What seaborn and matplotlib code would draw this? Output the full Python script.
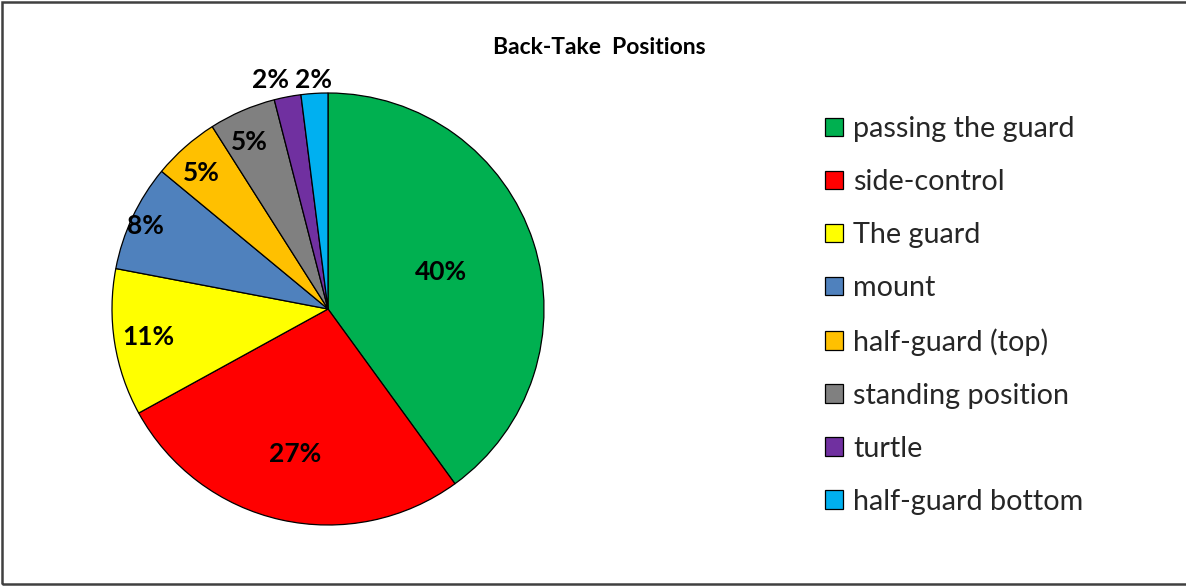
import matplotlib
matplotlib.use("Agg")
import matplotlib.pyplot as plt
from matplotlib.patches import Rectangle
import numpy as np
import seaborn as sns

# Back-take starting positions (share of all back takes, %)
positions = ["passing the guard", "side-control", "The guard", "mount",
             "half-guard (top)", "standing position", "turtle", "half-guard bottom"]
shares = [40, 27, 11, 8, 5, 5, 2, 2]
pct_labels = ["40%", "27%", "11%", "8%", "5%", "5%", "2%", "2%"]
title = "Back-Take  Positions"

sns.set_theme(style="white")
plt.rcParams["font.family"] = ["Lato", "DejaVu Sans"]

colors = sns.color_palette(["#00B050", "#FF0000", "#FFFF00", "#4F81BD",
                            "#FFC000", "#808080", "#7030A0", "#00B0F0"])

W, H = 1186, 586
fig = plt.figure(figsize=(W / 100, H / 100), dpi=100)
fig.patch.set_facecolor("white")

# pie axes: centre (328, 309) px, radius 216 px
cx, cy, r = 328, 309, 216
ax = fig.add_axes([(cx - r) / W, (H - cy - r) / H, 2 * r / W, 2 * r / H])
wedges, _ = ax.pie(shares, colors=colors, startangle=90, counterclock=False,
                   radius=1.0, wedgeprops=dict(edgecolor="black", linewidth=0.9))
ax.set_xlim(-1, 1)
ax.set_ylim(-1, 1)
ax.set_aspect("equal")
ax.axis("off")

# label distance from the centre (fraction of radius) for each slice
label_dist = [0.55, 0.69, 0.84, 0.90, 0.84, 0.84, 1.08, 1.06]
label_shift = [0, 0, 0, -0.03, -0.03, -0.03, -0.065, 0]
for w, txt, d, s in zip(wedges, pct_labels, label_dist, label_shift):
    mid = np.deg2rad((w.theta1 + w.theta2) / 2)
    x = d * np.cos(mid) + s
    y = d * np.sin(mid)
    ax.text(x, y, txt, ha="center", va="center", fontsize=19,
            fontweight="bold", color="black")

fig.text(599 / W, 1 - 47 / H, title, ha="center", va="center",
         fontsize=16.5, fontweight="bold", color="black")

leg = fig.legend(wedges, positions, loc="upper left",
                 bbox_to_anchor=(825 / W, 1 - 116 / H), frameon=False,
                 fontsize=20.7, handlelength=0.62, handleheight=0.62,
                 handletextpad=0.35, labelspacing=0.94, borderpad=0,
                 borderaxespad=0)
for t in leg.get_texts():
    t.set_color("#262626")

# outer frame
fig.patches.append(Rectangle((2 / W, 2 / H), 1.2, 1 - 4 / H,
                             transform=fig.transFigure, fill=False,
                             edgecolor="#404040", linewidth=1.8))

fig.savefig("out.png", dpi=100, facecolor="white")
